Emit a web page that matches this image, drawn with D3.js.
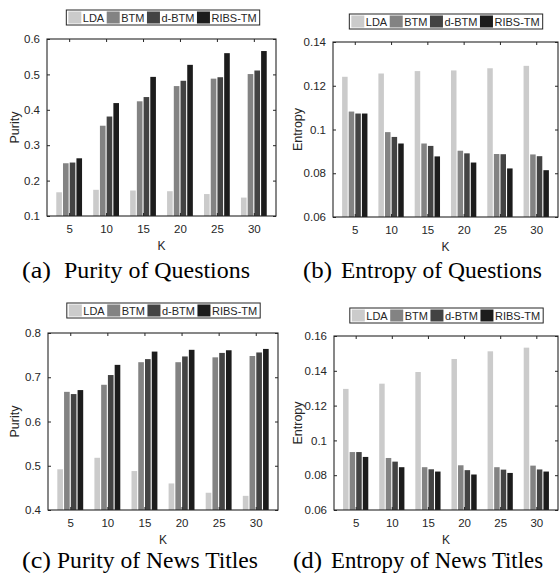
<!DOCTYPE html>
<html>
<head>
<meta charset="utf-8">
<script src="https://cdn.jsdelivr.net/npm/d3@7/dist/d3.min.js"></script>
<style>
  html, body { margin: 0; padding: 0; background: #ffffff; }
  svg { display: block; }
</style>
</head>
<body>
<svg id="chart" width="559" height="578"></svg>
<script>
// ---------- data ----------
const categories = ["5", "10", "15", "20", "25", "30"];
const seriesNames = ["LDA", "BTM", "d-BTM", "RIBS-TM"];
const seriesColors = ["#cbcbcb", "#838383", "#434343", "#1c1c1c"];

// (a) Purity of Questions
const purityQ_LDA  = [0.167, 0.174, 0.172, 0.170, 0.162, 0.152];
const purityQ_BTM  = [0.249, 0.355, 0.424, 0.467, 0.488, 0.501];
const purityQ_dBTM = [0.251, 0.381, 0.436, 0.482, 0.492, 0.511];
const purityQ_RIBS = [0.263, 0.419, 0.493, 0.527, 0.560, 0.566];
const purityQ_ticks = [0.1, 0.2, 0.3, 0.4, 0.5, 0.6];

// (b) Entropy of Questions
const entropyQ_LDA  = [0.1241, 0.1256, 0.1267, 0.1270, 0.1280, 0.1291];
const entropyQ_BTM  = [0.1082, 0.0988, 0.0936, 0.0903, 0.0888, 0.0886];
const entropyQ_dBTM = [0.1073, 0.0966, 0.0925, 0.0891, 0.0887, 0.0878];
const entropyQ_RIBS = [0.1073, 0.0936, 0.0877, 0.0849, 0.0822, 0.0814];
const entropyQ_ticks = [0.06, 0.08, 0.1, 0.12, 0.14];

// (c) Purity of News Titles
const purityN_LDA  = [0.492, 0.518, 0.488, 0.460, 0.439, 0.432];
const purityN_BTM  = [0.667, 0.683, 0.734, 0.734, 0.745, 0.748];
const purityN_dBTM = [0.662, 0.705, 0.741, 0.747, 0.755, 0.756];
const purityN_RIBS = [0.671, 0.728, 0.758, 0.762, 0.761, 0.764];
const purityN_ticks = [0.4, 0.5, 0.6, 0.7, 0.8];

// (d) Entropy of News Titles
const entropyN_LDA  = [0.1296, 0.1326, 0.1393, 0.1468, 0.1512, 0.1533];
const entropyN_BTM  = [0.0933, 0.0899, 0.0846, 0.0857, 0.0846, 0.0855];
const entropyN_dBTM = [0.0933, 0.0878, 0.0834, 0.0829, 0.0832, 0.0833];
const entropyN_RIBS = [0.0905, 0.0846, 0.0821, 0.0804, 0.0813, 0.0821];
const entropyN_ticks = [0.06, 0.08, 0.1, 0.12, 0.14, 0.16];

const xLabel = "K";

// ---------- panel layout ----------
const panels = [
  { series: [purityQ_LDA, purityQ_BTM, purityQ_dBTM, purityQ_RIBS], ticks: purityQ_ticks,
    ylabel: "Purity", tag: "(a)", caption: "Purity of Questions",
    box: { l: 47, r: 276, t: 39, b: 216 }, legend: { cx: 163, t: 10 },
    ylabX: 19, cap: { tagX: 22, x0: 64, x1: 250, base: 278 } },
  { series: [entropyQ_LDA, entropyQ_BTM, entropyQ_dBTM, entropyQ_RIBS], ticks: entropyQ_ticks,
    ylabel: "Entropy", tag: "(b)", caption: "Entropy of Questions",
    box: { l: 333, r: 558, t: 42, b: 217 }, legend: { cx: 446, t: 14 },
    ylabX: 302, cap: { tagX: 303, x0: 341, x1: 542, base: 278 } },
  { series: [purityN_LDA, purityN_BTM, purityN_dBTM, purityN_RIBS], ticks: purityN_ticks,
    ylabel: "Purity", tag: "(c)", caption: "Purity of News Titles",
    box: { l: 48, r: 278, t: 333, b: 510 }, legend: { cx: 163.5, t: 303 },
    ylabX: 19, cap: { tagX: 22, x0: 57, x1: 258, base: 568 } },
  { series: [entropyN_LDA, entropyN_BTM, entropyN_dBTM, entropyN_RIBS], ticks: entropyN_ticks,
    ylabel: "Entropy", tag: "(d)", caption: "Entropy of News Titles",
    box: { l: 334, r: 558, t: 336, b: 510 }, legend: { cx: 446.5, t: 308 },
    ylabX: 302, cap: { tagX: 293, x0: 331, x1: 543, base: 568 } }
];

const svg = d3.select("#chart");
const axisColor = "#262626";
const sans = "'Liberation Sans', Arial, Helvetica, sans-serif";
const serif = "'Liberation Serif', 'Times New Roman', Times, serif";
const fmt = v => String(+v.toFixed(2));

const groupPitch = 0.182;   // spacing of bars inside a group (x units)
const barW = 0.152;         // bar width (x units)

panels.forEach(p => {
  const g = svg.append("g");
  const B = p.box;
  const x = d3.scaleLinear().domain([0.4, 6.6]).range([B.l, B.r]);
  const yMin = p.ticks[0], yMax = p.ticks[p.ticks.length - 1];
  const y = d3.scaleLinear().domain([yMin, yMax]).range([B.b, B.t]);

  // bars
  p.series.forEach((vals, si) => {
    g.append("g").selectAll("rect")
      .data(vals)
      .join("rect")
      .attr("x", (d, i) => x(i + 1 + (si - 1.5) * groupPitch - barW / 2))
      .attr("width", x(barW) - x(0))
      .attr("y", d => y(d))
      .attr("height", d => y(yMin) - y(d))
      .attr("fill", seriesColors[si]);
  });

  // axes (inward ticks on all sides, box)
  const xTickVals = categories.map((c, i) => i + 1);
  const bottom = g.append("g").attr("transform", `translate(0,${B.b})`)
    .call(d3.axisBottom(x).tickValues(xTickVals).tickSize(-3).tickPadding(6)
      .tickFormat((d, i) => categories[i]));
  const top = g.append("g").attr("transform", `translate(0,${B.t})`)
    .call(d3.axisTop(x).tickValues(xTickVals).tickSize(-3).tickFormat(""));
  const left = g.append("g").attr("transform", `translate(${B.l},0)`)
    .call(d3.axisLeft(y).tickValues(p.ticks).tickSize(-3).tickPadding(7).tickFormat(fmt));
  const right = g.append("g").attr("transform", `translate(${B.r},0)`)
    .call(d3.axisRight(y).tickValues(p.ticks).tickSize(-3).tickFormat(""));

  [bottom, top, left, right].forEach(a => {
    a.select(".domain").remove();
    a.selectAll("line").attr("stroke", axisColor).attr("stroke-width", 1);
    a.selectAll("text").attr("fill", axisColor)
      .style("font-family", sans).style("font-size", "11.5px");
  });
  bottom.selectAll("text").attr("dy", "0").attr("y", 16.5);

  g.append("rect")
    .attr("x", B.l).attr("y", B.t)
    .attr("width", B.r - B.l).attr("height", B.b - B.t)
    .attr("fill", "none").attr("stroke", axisColor).attr("stroke-width", 1.1);

  // axis labels
  g.append("text")
    .attr("x", (B.l + B.r) / 2).attr("y", B.b + 34)
    .attr("text-anchor", "middle").attr("fill", axisColor)
    .style("font-family", sans).style("font-size", "12px")
    .text(xLabel);
  g.append("text")
    .attr("transform", `translate(${p.ylabX},${(B.t + B.b) / 2}) rotate(-90)`)
    .attr("text-anchor", "middle").attr("fill", axisColor)
    .style("font-family", sans).style("font-size", "12.5px")
    .text(p.ylabel);

  // legend
  const lg = g.append("g");
  const box = lg.append("rect").attr("fill", "#ffffff")
    .attr("stroke", axisColor).attr("stroke-width", 1);
  let cursor = 2;
  seriesNames.forEach((name, si) => {
    lg.append("rect")
      .attr("x", cursor).attr("y", 1.5).attr("width", 13).attr("height", 12)
      .attr("fill", seriesColors[si]);
    cursor += 14.5;
    const t = lg.append("text")
      .attr("x", cursor).attr("y", 11.8)
      .attr("fill", axisColor)
      .style("font-family", sans).style("font-size", "11px")
      .text(name);
    cursor += t.node().getComputedTextLength() + 2.5;
  });
  const lw = cursor + 0.5;
  box.attr("x", 0).attr("y", 0).attr("width", lw).attr("height", 15);
  lg.attr("transform", `translate(${p.legend.cx - lw / 2},${p.legend.t})`);

  // caption
  g.append("text")
    .attr("x", p.cap.tagX).attr("y", p.cap.base)
    .attr("fill", "#000")
    .attr("textLength", 29)
    .attr("lengthAdjust", "spacingAndGlyphs")
    .style("font-family", serif).style("font-size", "22.5px")
    .text(p.tag);
  g.append("text")
    .attr("x", p.cap.x0).attr("y", p.cap.base)
    .attr("fill", "#000")
    .attr("textLength", p.cap.x1 - p.cap.x0)
    .attr("lengthAdjust", "spacingAndGlyphs")
    .style("font-family", serif).style("font-size", "22.5px")
    .text(p.caption);
});
</script>
</body>
</html>
